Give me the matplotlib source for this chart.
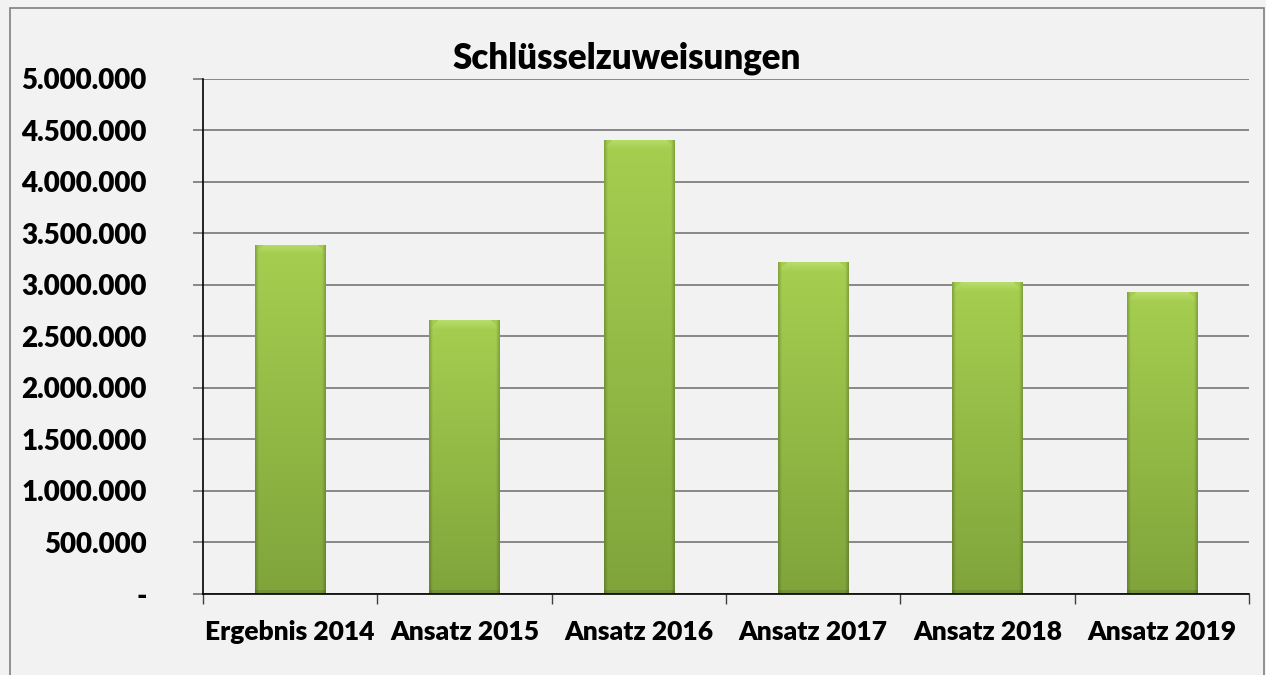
import numpy as np
import matplotlib
matplotlib.use("Agg")
import matplotlib.pyplot as plt
from matplotlib.patches import Rectangle
from matplotlib.ticker import FuncFormatter, MultipleLocator
from matplotlib.colors import to_rgb

categories = ["Ergebnis 2014", "Ansatz 2015", "Ansatz 2016", "Ansatz 2017", "Ansatz 2018", "Ansatz 2019"]
values = [3390000, 2660000, 4410000, 3220000, 3025000, 2930000]
title = "Schlüsselzuweisungen"

plt.rcParams['font.family'] = ['Lato', 'DejaVu Sans']
W = "heavy"

bg = "#f2f2f2"
fig = plt.figure(figsize=(12.66, 6.75), dpi=100, facecolor=bg)
ax = fig.add_axes([0.1603, 0.12, 0.8263, 0.763])
ax.set_facecolor(bg)

# outer frame
fig.patches.append(Rectangle((10/1266, -0.05), 1254/1266, 1.05 - 8/675,
                             transform=fig.transFigure, fill=False,
                             edgecolor="#7f7f7f", lw=1.2, zorder=0))

x = np.arange(len(categories))
bars = ax.bar(x, values, width=0.405, color="#98c245", zorder=3)

ymax = 5000000
ax.set_ylim(0, ymax)
ax.set_xlim(-0.5, len(categories) - 0.5)

# gradient / bevel fill of each bar
top_c = np.array(to_rgb("#a6cf50"))
bot_c = np.array(to_rgb("#80a43b"))
bevel_c = np.array(to_rgb("#c4e57e"))
for p in bars.patches:
    x0, y0, w, h = p.get_x(), p.get_y(), p.get_width(), p.get_height()
    nrows = max(int(h / ymax * 515), 2)
    ncols = 71
    t = np.linspace(0, 1, nrows)[:, None, None]
    img = top_c * (1 - t) + bot_c * t
    img = np.repeat(img, ncols, axis=1)
    # side shading
    s = np.linspace(-1, 1, ncols)
    shade = 1 - 0.2 * np.clip((np.abs(s) - 0.9) / 0.1, 0, 1)
    img = img * shade[None, :, None]
    # bottom edge darkening
    for r in range(1, 5):
        img[-r, :, :] *= 0.9
    # top bevel
    bv = 9
    for r in range(min(bv, nrows)):
        f = 1 - r / bv
        inset = bv - r
        img[r, inset:ncols - inset, :] = img[r, inset:ncols - inset, :] * (1 - 0.6 * f) + bevel_c * 0.6 * f
    img = np.clip(img, 0, 1)
    im = ax.imshow(img, extent=(x0, x0 + w, y0, y0 + h), aspect="auto",
                   zorder=4, interpolation="bilinear")
    im.set_clip_path(p)

ax.set_ylim(0, ymax)
ax.set_xlim(-0.5, len(categories) - 0.5)

ax.yaxis.set_major_locator(MultipleLocator(500000))
def fmt(v, pos):
    if v == 0:
        return "-"
    return f"{int(round(v)):,}".replace(",", ".")
ax.yaxis.set_major_formatter(FuncFormatter(fmt))
ax.grid(axis="y", color="#7f7f7f", lw=1.3, zorder=0)
ax.set_axisbelow(True)

ax.set_xticks(np.arange(len(categories) + 1) - 0.5, minor=False)
ax.set_xticklabels([])
ax.set_xticks(x, minor=True)
ax.set_xticklabels(categories, minor=True)
ax.tick_params(axis="x", which="major", length=7, color="#404040", width=1)
ax.tick_params(axis="x", which="minor", length=0, pad=19, labelsize=19)
ax.tick_params(axis="y", length=7.5, color="#7f7f7f", width=1.3, pad=33, labelsize=20)
for lab in ax.get_xticklabels(minor=True) + ax.get_yticklabels():
    lab.set_fontweight(W)

for sp in ["top", "right"]:
    ax.spines[sp].set_visible(False)
ax.spines["left"].set_color("black")
ax.spines["bottom"].set_color("black")
ax.spines["left"].set_linewidth(1.2)
ax.spines["bottom"].set_linewidth(1.2)
ax.spines["left"].set_zorder(5)
ax.spines["bottom"].set_zorder(5)

fig.text(627/1266, 1 - 58/675, title, ha="center", va="center",
         fontsize=25, fontweight=W)

fig.savefig("out.png", dpi=100, facecolor=bg)
